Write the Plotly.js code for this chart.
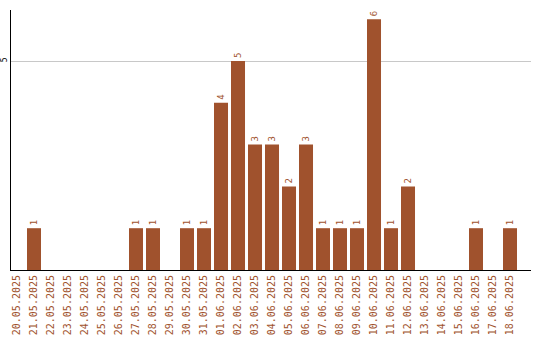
<!DOCTYPE html>
<html><head><meta charset="utf-8">
<script src="https://cdn.plot.ly/plotly-3.0.1.min.js"></script>
<style>html,body{margin:0;padding:0;background:#fff}</style>
</head><body>
<div id="chart" style="width:540px;height:340px"></div>
<script>
const dates = ["20.05.2025","21.05.2025","22.05.2025","23.05.2025","24.05.2025","25.05.2025","26.05.2025","27.05.2025","28.05.2025","29.05.2025","30.05.2025","31.05.2025","01.06.2025","02.06.2025","03.06.2025","04.06.2025","05.06.2025","06.06.2025","07.06.2025","08.06.2025","09.06.2025","10.06.2025","11.06.2025","12.06.2025","13.06.2025","14.06.2025","15.06.2025","16.06.2025","17.06.2025","18.06.2025"];
const counts = [0,1,0,0,0,0,0,1,1,0,1,1,4,5,3,3,2,3,1,1,1,6,1,2,0,0,0,1,0,1];
const labels = counts.map(v => v > 0 ? String(v) : "");
const barColor = "#A0522D";

Plotly.newPlot("chart", [{
  type: "bar",
  x: dates,
  y: counts,
  text: labels,
  textposition: "outside",
  textangle: -90,
  cliponaxis: false,
  textfont: {family: "DejaVu Sans Mono", size: 9, color: barColor},
  marker: {color: barColor},
  hoverinfo: "none"
}], {
  width: 540, height: 340,
  margin: {l: 11, r: 9, t: 10, b: 70},
  paper_bgcolor: "#fff", plot_bgcolor: "#fff",
  bargap: 0.176,
  showlegend: false,
  xaxis: {
    type: "category",
    range: [-0.353, 30.235],
    tickangle: -90,
    tickfont: {family: "DejaVu Sans Mono", size: 10, color: barColor},
    showline: true, linecolor: "#000", linewidth: 1,
    showgrid: false, ticks: "", ticklen: 0
  },
  yaxis: {
    range: [0, 6.22],
    tickangle: -90,
    tickfont: {family: "DejaVu Sans Mono", size: 8, color: "#000"},
    showline: true, linecolor: "#000", linewidth: 1,
    showgrid: true, gridcolor: "#c8c8c8", gridwidth: 1,
    zeroline: false, ticks: "",
    tickvals: [5], ticktext: ["5"]
  }
}, {displayModeBar: false, staticPlot: true});
</script>
</body></html>
